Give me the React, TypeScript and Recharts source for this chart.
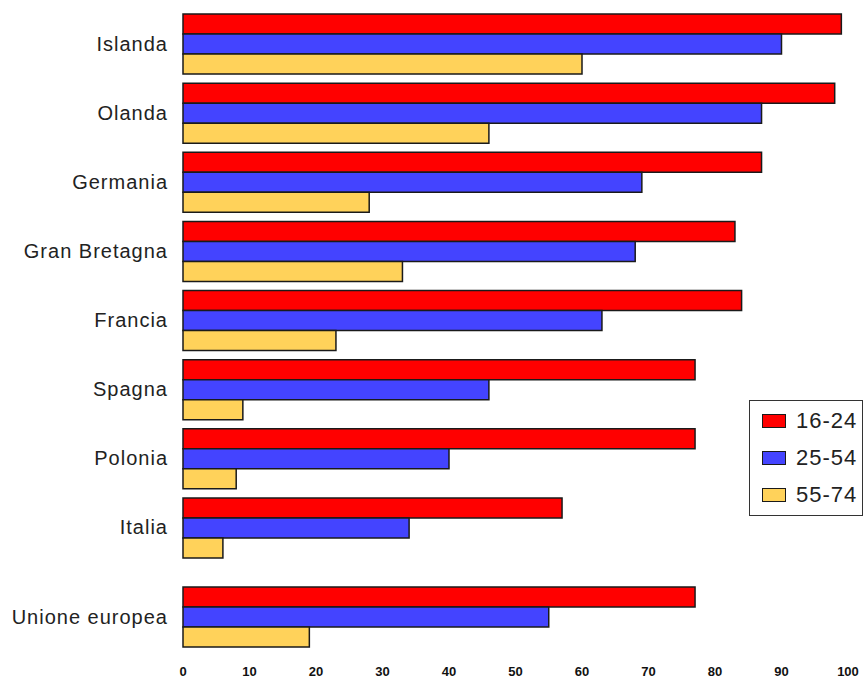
import React from 'react';
import { BarChart, Bar, XAxis, YAxis, Legend } from 'recharts';

// Country rows (top block)
const countries = ['Islanda', 'Olanda', 'Germania', 'Gran Bretagna', 'Francia', 'Spagna', 'Polonia', 'Italia'];
const age16to24 = [99, 98, 87, 83, 84, 77, 77, 57];
const age25to54 = [90, 87, 69, 68, 63, 46, 40, 34];
const age55to74 = [60, 46, 28, 33, 23, 9, 8, 6];

// European Union row (bottom block)
const euLabels = ['Unione europea'];
const eu16to24 = [77];
const eu25to54 = [55];
const eu55to74 = [19];

const seriesNames = ['16-24', '25-54', '55-74'];
const xTicks = [0, 10, 20, 30, 40, 50, 60, 70, 80, 90, 100];

const rowsCountries = countries.map((name, i) => ({
  name,
  g1: age16to24[i],
  g2: age25to54[i],
  g3: age55to74[i],
}));

const rowsEu = euLabels.map((name, i) => ({
  name,
  g1: eu16to24[i],
  g2: eu25to54[i],
  g3: eu55to74[i],
}));

const COLORS = ['#ff0000', '#4444ff', '#ffd25a'];
const EDGE = '#1a1a1a';
const FONT = '"Liberation Sans", Arial, sans-serif';

const CategoryTick = (props: any) => {
  const { x, y, payload } = props;
  return (
    <text
      x={x}
      y={y}
      textAnchor="end"
      dominantBaseline="central"
      fill="#222"
      fontFamily={FONT}
      fontSize={20}
      letterSpacing={1}
    >
      {payload.value}
    </text>
  );
};

const ValueTick = (props: any) => {
  const { x, y, payload } = props;
  return (
    <text
      x={x}
      y={y}
      textAnchor="middle"
      dominantBaseline="central"
      fill="#111"
      fontFamily={FONT}
      fontSize={13}
      fontWeight="bold"
    >
      {payload.value}
    </text>
  );
};

const LegendBox = (props: any) => {
  const items = props.payload || [];
  return (
    <div
      style={{
        boxSizing: 'border-box',
        width: 114,
        height: 116,
        border: '1px solid #333',
        background: '#fff',
        paddingTop: 1,
        paddingLeft: 12,
      }}
    >
      {items.map((item: any) => (
        <div key={item.value} style={{ display: 'flex', alignItems: 'center', height: 37 }}>
          <span
            style={{
              display: 'inline-block',
              boxSizing: 'border-box',
              width: 24,
              height: 14,
              background: item.color,
              border: `1.5px solid ${EDGE}`,
            }}
          />
          <span
            style={{
              marginLeft: 10,
              fontFamily: FONT,
              fontSize: 22,
              letterSpacing: 1,
              color: '#222',
              lineHeight: '22px',
            }}
          >
            {item.value}
          </span>
        </div>
      ))}
    </div>
  );
};

const bars = () =>
  ['g1', 'g2', 'g3'].map((key, i) => (
    <Bar
      key={key}
      dataKey={key}
      name={seriesNames[i]}
      fill={COLORS[i]}
      stroke={EDGE}
      strokeWidth={1.5}
      isAnimationActive={false}
    />
  ));

export default function App() {
  return (
    <div style={{ position: 'absolute', left: 0, top: 0, width: 864, height: 679, background: '#fff' }}>
      <BarChart
        width={864}
        height={562}
        data={rowsCountries}
        layout="vertical"
        margin={{ top: 9, right: 16, bottom: 0, left: 0 }}
        barGap={0}
        barSize={20}
      >
        <XAxis type="number" domain={[0, 100]} hide />
        <YAxis
          type="category"
          dataKey="name"
          width={183}
          axisLine={false}
          tickLine={false}
          tickSize={0}
          tickMargin={15}
          interval={0}
          tick={<CategoryTick />}
        />
        {bars()}
        <Legend
          layout="horizontal"
          verticalAlign="middle"
          align="center"
          content={<LegendBox />}
          wrapperStyle={{ left: 749, top: 400, width: 114, height: 116 }}
        />
      </BarChart>
      <BarChart
        width={864}
        height={117}
        data={rowsEu}
        layout="vertical"
        margin={{ top: 20, right: 16, bottom: 0, left: 0 }}
        barGap={0}
        barSize={20}
      >
        <XAxis
          type="number"
          domain={[0, 100]}
          ticks={xTicks}
          interval={0}
          axisLine={false}
          tickLine={false}
          tickSize={0}
          tickMargin={20}
          height={28}
          tick={<ValueTick />}
        />
        <YAxis
          type="category"
          dataKey="name"
          width={183}
          axisLine={false}
          tickLine={false}
          tickSize={0}
          tickMargin={15}
          interval={0}
          tick={<CategoryTick />}
        />
        {bars()}
      </BarChart>
    </div>
  );
}
